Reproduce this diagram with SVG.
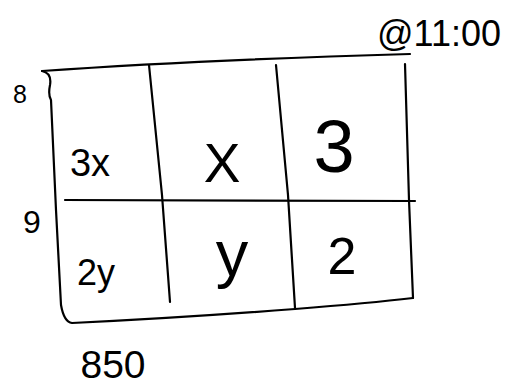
<svg xmlns="http://www.w3.org/2000/svg" width="512" height="385" viewBox="0 0 512 385">
<style>
.ln{fill:none;stroke:#000;stroke-width:2.2;stroke-linecap:round;stroke-linejoin:round}
.t{font-family:"Liberation Sans",Arial,sans-serif;fill:#000;text-anchor:middle}
</style>
<rect width="512" height="385" fill="#fff"/>
<g id="grid" class="ln">
<path d="M42,71 Q200,60 410,54"/>
<path d="M42,71 Q52,73 50,85 Q48,95 51,100 L56,210 L61,305 Q64,322 72,323 Q180,318 295,309 Q370,303 413,298"/>
<path d="M405,64 L409,200 L413,298"/>
<path d="M149,65 L162,195 L170,302"/>
<path d="M276,65 L288,195 L295,308"/>
<path d="M65,200 Q200,201 415,201"/>
</g>
<g id="labels">
<text class="t" x="90" y="176" font-size="38">3x</text>
<text class="t" x="222" y="182" font-size="55">X</text>
<text class="t" x="334" y="172" font-size="74">3</text>
<text class="t" x="96" y="285" font-size="36">2y</text>
<text class="t" x="232" y="276" font-size="65">y</text>
<text class="t" x="342" y="274" font-size="52">2</text>
<text class="t" x="20" y="103" font-size="25">8</text>
<text class="t" x="32" y="233" font-size="32">9</text>
<text class="t" x="113" y="378" font-size="39">850</text>
<text class="t" x="439" y="46" font-size="36">@11:00</text>
</g>
</svg>
